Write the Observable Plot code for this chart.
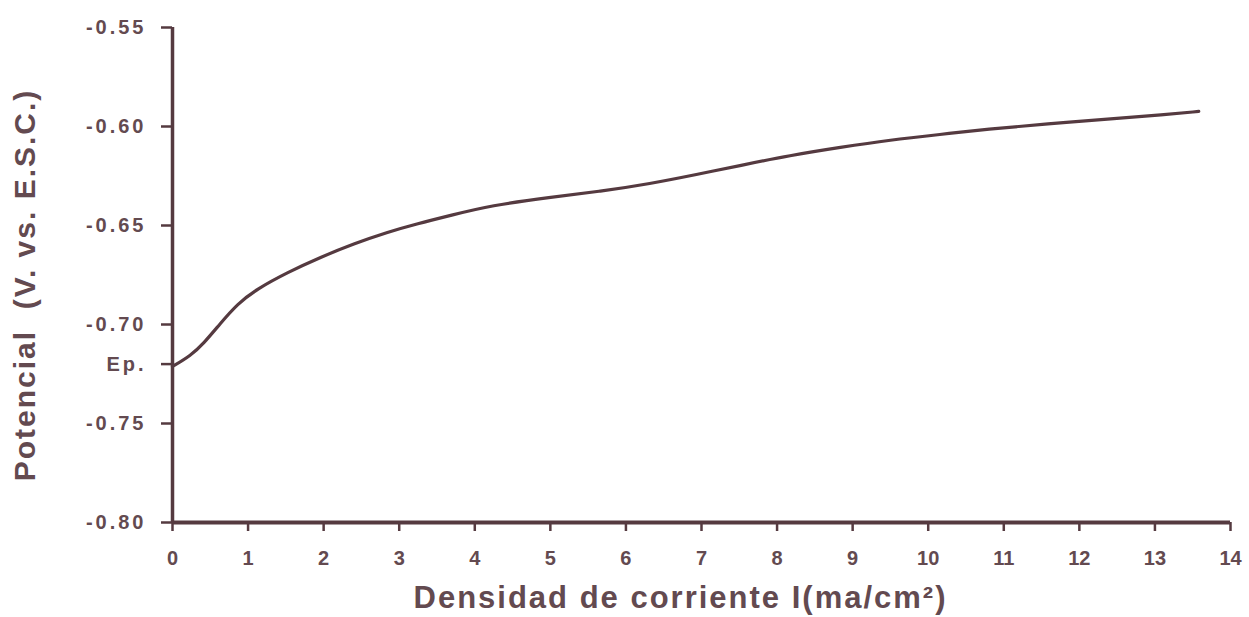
<!DOCTYPE html>
<html>
<head>
<meta charset="utf-8">
<script src="https://cdn.jsdelivr.net/npm/d3@7"></script>
<script src="https://cdn.jsdelivr.net/npm/@observablehq/plot@0.6"></script>
<style>
  html, body { margin: 0; padding: 0; background: #fff; }
  #chart svg { display: block; }
</style>
</head>
<body>
<div id="chart"></div>
<script>
const current = [0, 0.24, 0.41, 0.63, 0.86, 1.12, 1.52, 1.96, 2.4, 2.84, 3.24, 3.68, 4.21, 5.0, 5.66, 6.32, 6.94, 7.51, 8.17, 8.84, 9.5, 10.16, 10.78, 11.57, 12.45, 13.11, 13.58];
const potential = [-0.7212, -0.7157, -0.7097, -0.6996, -0.6895, -0.6820, -0.6737, -0.6660, -0.6592, -0.6534, -0.6491, -0.6449, -0.6399, -0.6357, -0.6328, -0.6289, -0.6242, -0.6197, -0.6146, -0.6105, -0.6068, -0.6040, -0.6014, -0.5986, -0.5961, -0.5941, -0.5924];
const xTicks = [0, 1, 2, 3, 4, 5, 6, 7, 8, 9, 10, 11, 12, 13, 14];
const yTicks = [-0.80, -0.75, -0.72, -0.70, -0.65, -0.60, -0.55];
const yTickLabels = ["-0.80", "-0.75", "Ep.", "-0.70", "-0.65", "-0.60", "-0.55"];
const xTitle = "Densidad de corriente I(ma/cm²)";
const yTitle = "Potencial  (V. vs. E.S.C.)";

const data = current.map((x, i) => ({x, y: potential[i]}));
const lineColor = "#553a40";
const textColor = "#634a50";

const chart = Plot.plot({
  width: 1249,
  height: 617,
  marginLeft: 172,
  marginRight: 19,
  marginTop: 27,
  marginBottom: 95,
  style: {fontFamily: "'Liberation Sans', Arial, sans-serif", background: "#fff"},
  x: {domain: [0, 14]},
  y: {domain: [-0.80, -0.55]},
  marks: [
    Plot.axisX({ticks: xTicks, tickSize: 9, tickPadding: 19, tickFormat: d => String(d),
      fontSize: 20, fontWeight: "bold", fill: textColor, stroke: lineColor, strokeWidth: 2.5, label: null}),
    Plot.axisY({ticks: yTicks, tickSize: 11, tickPadding: 15,
      tickFormat: d => yTickLabels[yTicks.indexOf(d)],
      fontSize: 20, fontWeight: "bold", fill: textColor, stroke: lineColor, strokeWidth: 2.5, label: null}),
    Plot.ruleX([0], {stroke: lineColor, strokeWidth: 3.5}),
    Plot.ruleY([-0.80], {stroke: lineColor, strokeWidth: 4}),
    Plot.line(data, {x: "x", y: "y", stroke: lineColor, strokeWidth: 3.2, curve: "basis"}),
    Plot.text([xTitle], {frameAnchor: "bottom", dx: -21, dy: 85, text: d => d, fontSize: 31, fontWeight: "bold", fill: textColor}),
    Plot.text([yTitle], {frameAnchor: "left", textAnchor: "middle", dx: -147, dy: 10, rotate: -90, text: d => d, fontSize: 30, fontWeight: "bold", fill: textColor})
  ]
});
const svg = d3.select(chart);
svg.selectAll("g[aria-label='y-axis tick label'] text").attr("letter-spacing", "3px");
svg.selectAll("text").filter(function() { return this.textContent === xTitle; }).attr("letter-spacing", "2px");
svg.selectAll("text").filter(function() { return this.textContent === yTitle; }).attr("letter-spacing", "2px");
document.getElementById("chart").appendChild(chart);
</script>
</body>
</html>
